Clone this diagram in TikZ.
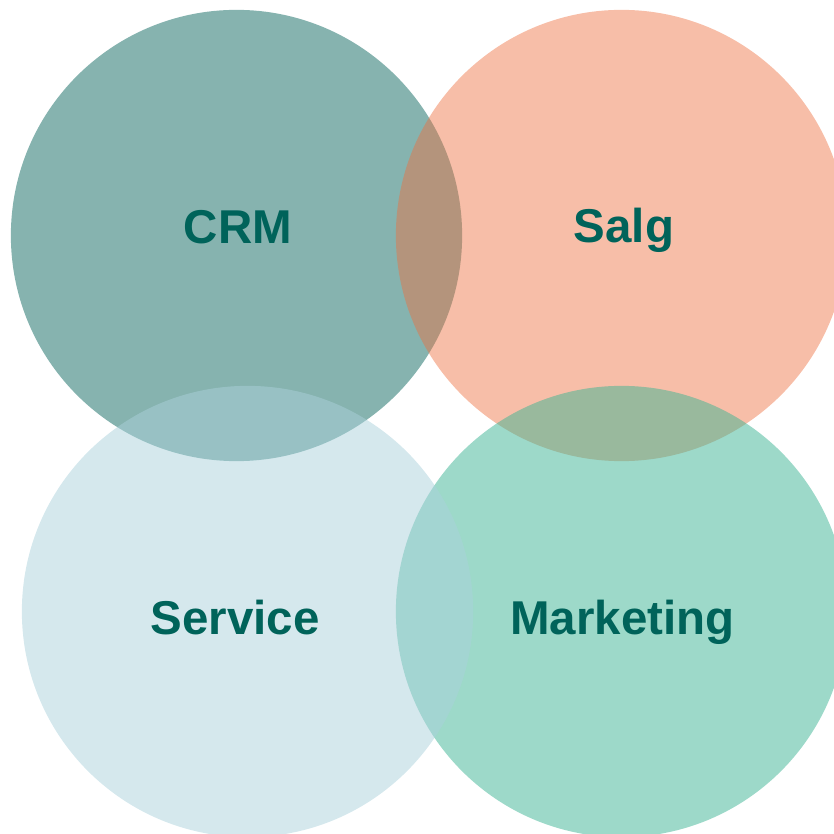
\documentclass[tikz,border=0pt]{standalone}
\usepackage{fontspec}
\setmainfont{Liberation Sans}
\usepackage{tikz}
\usetikzlibrary{calc}

\definecolor{crmcol}{RGB}{13,103,95}
\definecolor{salgcol}{RGB}{238,111,62}
\definecolor{mktcol}{RGB}{59,179,147}
\definecolor{servcol}{RGB}{171,209,219}
\definecolor{labelcol}{RGB}{0,99,90}

\tikzset{
	blob/.style={fill opacity=#1},
	circlabel/.style={anchor=base,inner sep=0pt,text=labelcol,
		font=\fontsize{13.5}{16}\selectfont\bfseries}
}

\begin{document}
\begin{tikzpicture}[x=0.01cm,y=-0.01cm]
				% Frame
				\clip (0,0) rectangle (834,834);
				
				% Centres
				\coordinate (crm) at (236.5,235.5);
				\coordinate (salg) at (621.5,235.5);
				\coordinate (service) at (247.5,611.5);
				\coordinate (marketing) at (621.5,611.5);
				
				% Circles
				\foreach \centre/\col/\op in {crm/crmcol/0.5,salg/salgcol/0.45,marketing/mktcol/0.5,service/servcol/0.5}
				\fill[\col,blob=\op] (\centre) circle (2.255cm);
				
				% Labels
				\node[circlabel] (crmlabel) at (238,244) {CRM};
				\node[circlabel] (salglabel) at (624,243) {Salg};
				\node[circlabel] (servicelabel) at (235,634) {Service};
				\node[circlabel] (marketinglabel) at (622.5,634) {Marketing};
			\end{tikzpicture}
\end{document}
